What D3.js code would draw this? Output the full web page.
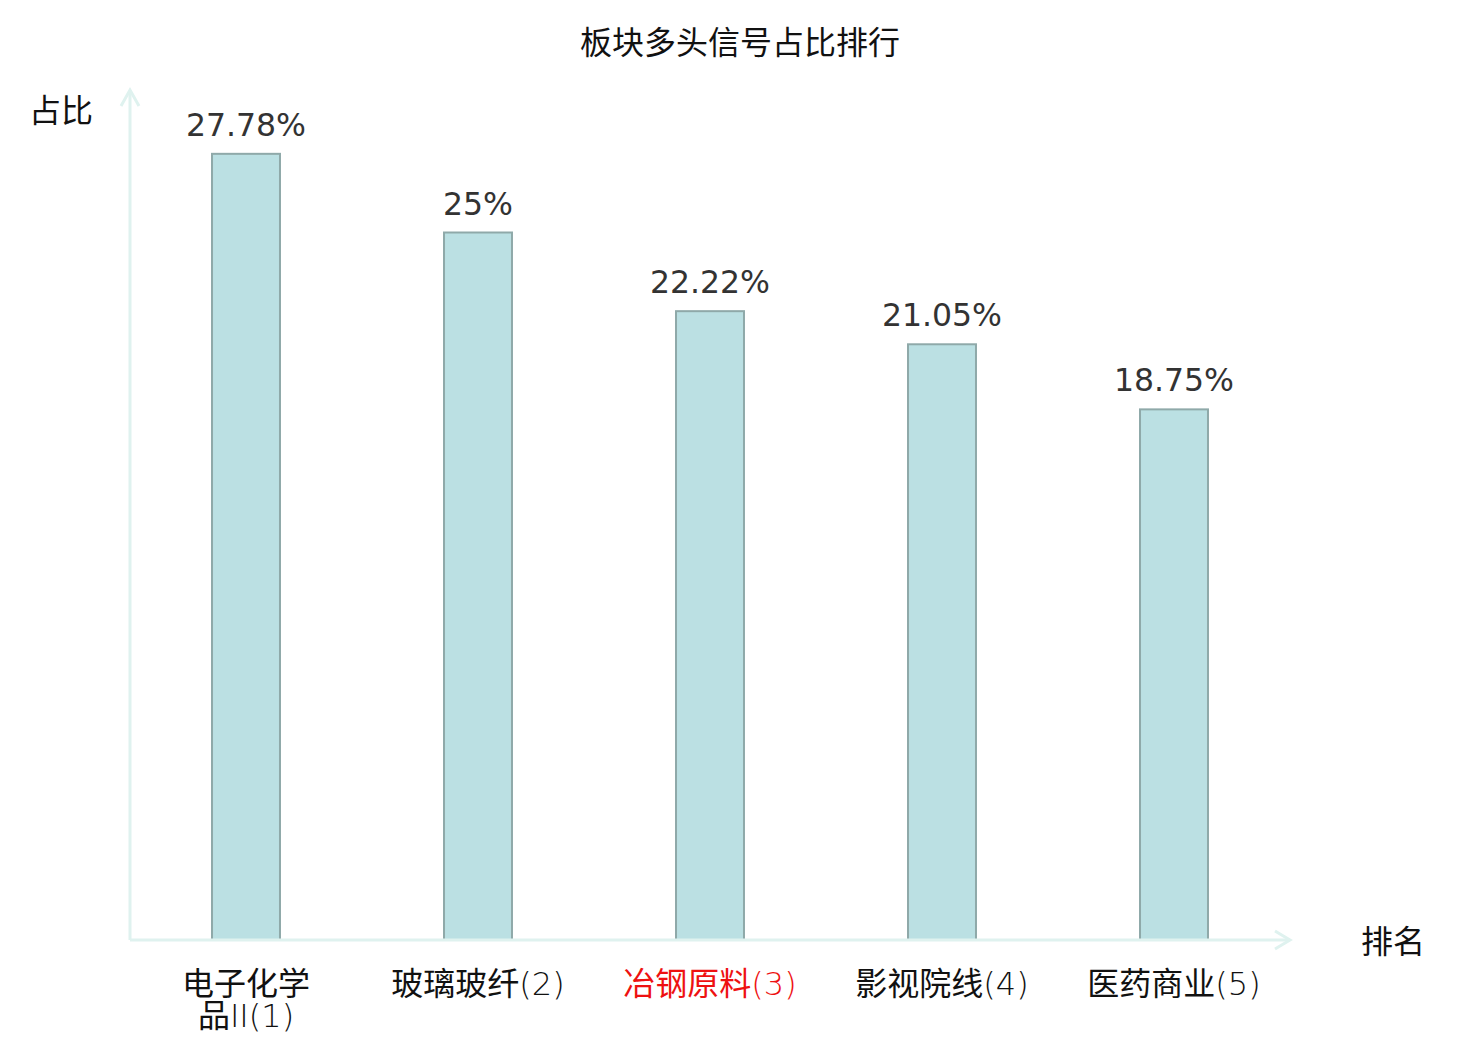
<!DOCTYPE html>
<html>
<head>
<meta charset="utf-8">
<script src="https://cdn.jsdelivr.net/npm/d3@7/dist/d3.min.js"></script>
<style>
  html, body { margin: 0; padding: 0; background: #fff; }
  svg { display: block; }
</style>
</head>
<body>
<svg id="chart" width="1480" height="1040"></svg>
<script>
const categories = ["电子化学品II(1)", "玻璃玻纤(2)", "冶钢原料(3)", "影视院线(4)", "医药商业(5)"];
const values = [27.78, 25, 22.22, 21.05, 18.75];
const valueLabels = ["27.78%", "25%", "22.22%", "21.05%", "18.75%"];
const highlightIndex = 2;
const titleText = "板块多头信号占比排行";
const yAxisName = "占比";
const xAxisName = "排名";

(function () {
const svg = d3.select("#chart");
const mLeft = 130, mRight = 1290, mTop = 91, mBottom = 940;
const axisColor = "#dff2ef";
const cjkFont = "'Noto Sans CJK SC', sans-serif";

const x = d3.scaleBand().domain(categories).range([mLeft, mRight]).paddingInner(0.707).paddingOuter(0.3535);
const y = d3.scaleLinear().domain([0, 30]).range([mBottom, mTop]);

// title
svg.append("text").attr("x", 740).attr("y", 54).attr("text-anchor", "middle")
  .attr("font-family", cjkFont).attr("font-size", 32).attr("fill", "#111")
  .text(titleText);

// bars
svg.append("g").selectAll("rect").data(values).join("rect")
  .attr("x", (d, i) => x(categories[i]))
  .attr("width", x.bandwidth())
  .attr("y", d => y(d))
  .attr("height", d => y(0) - y(d))
  .attr("fill", "#bbe0e3")
  .attr("stroke", "#8fa9a9")
  .attr("stroke-width", 2);

// value labels
svg.append("g").selectAll("text").data(values).join("text")
  .attr("x", (d, i) => x(categories[i]) + x.bandwidth() / 2)
  .attr("y", d => y(d) - 18)
  .attr("text-anchor", "middle")
  .attr("font-family", "'DejaVu Sans', sans-serif").attr("font-size", 31.5).attr("fill", "#333")
  .text((d, i) => valueLabels[i]);

// axes
const axes = svg.append("g").attr("fill", "none").attr("stroke", axisColor).attr("stroke-width", 3);
axes.append("line").attr("x1", mLeft).attr("y1", mBottom).attr("x2", mLeft).attr("y2", mTop - 1);
axes.append("path").attr("d", `M${mLeft - 9},${mTop + 15}L${mLeft},${mTop - 1}L${mLeft + 9},${mTop + 15}`);
axes.append("line").attr("x1", mLeft).attr("y1", mBottom).attr("x2", mRight).attr("y2", mBottom);
axes.append("path").attr("d", `M${mRight - 15},${mBottom - 9}L${mRight},${mBottom}L${mRight - 15},${mBottom + 9}`);

// axis names
svg.append("text").attr("x", 93).attr("y", 122).attr("text-anchor", "end")
  .attr("font-family", cjkFont).attr("font-size", 32).attr("fill", "#111")
  .text(yAxisName);
svg.append("text").attr("x", 1361).attr("y", 953)
  .attr("font-family", cjkFont).attr("font-size", 32).attr("fill", "#111")
  .text(xAxisName);

// category labels: long names break after 4 characters
function splitLines(c) {
  const chars = Array.from(c);
  if (chars.length > 9) return [chars.slice(0, 4).join(""), chars.slice(4).join("")];
  return [c];
}
function runs(s) {
  const out = [];
  Array.from(s).forEach(ch => {
    const cjk = /[\u3000-\u9fff\uff00-\uffef]/.test(ch);
    if (out.length && out[out.length - 1].cjk === cjk) out[out.length - 1].t += ch;
    else out.push({ t: ch, cjk });
  });
  return out;
}
const catG = svg.append("g");
categories.forEach((c, i) => {
  const cx = x(c) + x.bandwidth() / 2;
  const fill = i === highlightIndex ? "#ee1111" : "#111";
  splitLines(c).forEach((ln, k) => {
    const t = catG.append("text").attr("x", cx).attr("y", 995 + k * 32).attr("text-anchor", "middle")
      .attr("font-size", 32).attr("fill", fill);
    runs(ln).forEach(r => {
      const ts = t.append("tspan").text(r.t);
      if (r.cjk) ts.attr("font-family", cjkFont);
      else ts.attr("font-family", "'DejaVu Sans', sans-serif").attr("font-weight", 200);
    });
  });
});
})();
</script>
</body>
</html>
